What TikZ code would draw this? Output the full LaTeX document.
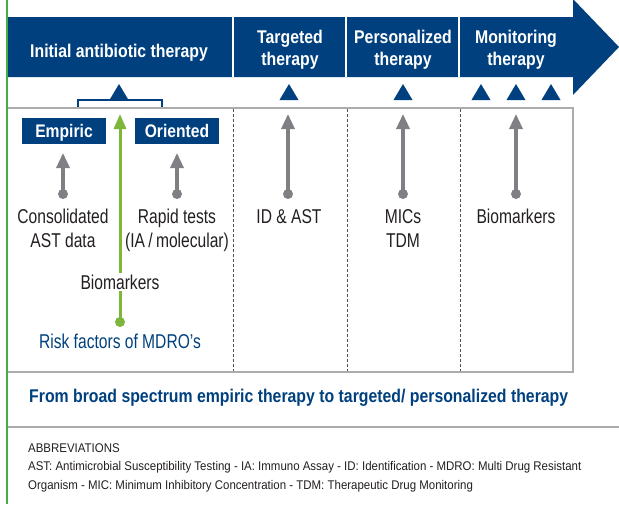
\documentclass[tikz,border=0pt]{standalone}
\usepackage{fontspec}
\setmainfont{Liberation Sans}[FakeStretch=0.86]
\newfontfamily\bodyfont{Liberation Sans}[FakeStretch=0.78]
\newfontfamily\abbrfont{Liberation Sans}[FakeStretch=0.91]
\usetikzlibrary{arrows.meta}
\definecolor{navy}{RGB}{0,64,126}
\definecolor{leftgreen}{RGB}{72,172,72}
\definecolor{arrowgreen}{RGB}{124,182,58}
\definecolor{arrowgray}{RGB}{128,128,132}
\definecolor{boxgray}{RGB}{172,172,172}
\definecolor{sepgray}{RGB}{80,80,80}
\definecolor{txt}{RGB}{35,31,32}
\begin{document}
\begin{tikzpicture}[x=1pt,y=-1pt,
  bandtxt/.style={text=white, font=\fontsize{18.4}{22}\selectfont\bfseries, align=center, inner sep=0},
  body/.style={text=txt, font=\bodyfont\fontsize{20}{23.5}\selectfont, align=center, inner sep=0},
  tagbox/.style={fill=navy, text=white, font=\fontsize{18.2}{22}\selectfont\bfseries, minimum width=84pt, minimum height=26pt, inner sep=0, text height=13pt, text depth=0pt},
  graydot/.style={circle, fill=arrowgray, minimum size=10pt, inner sep=0},
  greendot/.style={circle, fill=arrowgreen, minimum size=10pt, inner sep=0},
  grayarrow/.style={draw=arrowgray, line width=3.3pt, -{Triangle[length=15pt,width=13pt]}},
  greenarrow/.style={draw=arrowgreen, line width=3pt, -{Triangle[length=15pt,width=12pt]}},
  sepline/.style={draw=sepgray, line width=1pt, dash pattern=on 3pt off 2pt},
  abbr/.style={text=txt, font=\abbrfont\fontsize{12.6}{19}\selectfont, align=left, inner sep=0}
]
\useasboundingbox (0,0) rectangle (619,504);
% main arrow band
\fill[navy] (8,17) -- (573,17) -- (573,-1) -- (619,47) -- (573,95) -- (573,77) -- (8,77) -- cycle;
\foreach \sx in {233,346,459} \draw[white, line width=2pt] (\sx,17) -- (\sx,77);
\node[bandtxt, anchor=base] (initial) at (119,57) {Initial antibiotic therapy};
\node[bandtxt, anchor=base] (targeted) at (290,65) {Targeted\\therapy};
\node[bandtxt, anchor=base] (personal) at (403,65) {Personalized\\therapy};
\node[bandtxt, anchor=base] (monitor) at (516,65) {Monitoring\\therapy};
% triangles
\foreach \cx in {119,289,403,481,516,551}
  \fill[navy] (\cx-9.5,100) -- (\cx+9.5,100) -- (\cx,84) -- cycle;
% bracket
\draw[navy, line width=1.4pt] (78,107) -- (78,100) -- (162,100) -- (162,107);
% box
\draw[boxgray, line width=1.5pt] (8,108) -- (573,108) -- (573,372) -- (8,372);
\draw[boxgray, line width=1.5pt] (8,427) -- (619,427);
\foreach \sx in {233,347,460} \draw[sepline] (\sx,109) -- (\sx,371);
% left green line
\draw[leftgreen, line width=2.6pt] (7,0) -- (7,504);
% tags
\node[tagbox] (empiric) at (64,131) {Empiric};
\node[tagbox] (oriented) at (177,131) {Oriented};
% gray arrows
\node[graydot] (d1) at (63,194) {};
\node[graydot] (d2) at (177,194) {};
\node[graydot] (d3) at (288,194) {};
\node[graydot] (d4) at (403,194) {};
\node[graydot] (d5) at (516,194) {};
\coordinate (t1) at (63,153);
\coordinate (t2) at (177,153);
\coordinate (t3) at (288,114);
\coordinate (t4) at (403,114);
\coordinate (t5) at (516,114);
\foreach \i in {1,...,5} \draw[grayarrow] (d\i.center) -- (t\i);
% body texts
\node[body, anchor=base] (cons) at (63,247) {Consolidated\\AST data};
\node[body, anchor=base] (rapid) at (177,247) {Rapid tests\\(IA\,/\,molecular)};
\node[body, anchor=base] (idast) at (289,223) {ID \& AST};
\node[body, anchor=base] (mics) at (403,247) {MICs\\TDM};
\node[body, anchor=base] (bio2) at (516,223) {Biomarkers};
% green arrow
\node[greendot] (gd) at (120,322) {};
\coordinate (gt) at (120,114);
\draw[greenarrow] (gd.center) -- (gt);
\node[body, anchor=base, fill=white, inner sep=1.5pt] (bio1) at (120,289) {Biomarkers};
\node[body, anchor=base, text=navy] (risk) at (120,348) {Risk factors of MDRO’s};
% bottom
\node[anchor=base west, inner sep=0, text=navy, font=\fontsize{18.4}{22}\selectfont\bfseries] (summary) at (29,402) {From broad spectrum empiric therapy to targeted/ personalized therapy};
\node[abbr, anchor=base west] (abbrh) at (28,452) {ABBREVIATIONS};
\node[abbr, anchor=north west] (abbrt) at (28,461) {AST: Antimicrobial Susceptibility Testing - IA: Immuno Assay - ID: Identification - MDRO: Multi Drug Resistant\\Organism - MIC: Minimum Inhibitory Concentration - TDM: Therapeutic Drug Monitoring};
\end{tikzpicture}
\end{document}
